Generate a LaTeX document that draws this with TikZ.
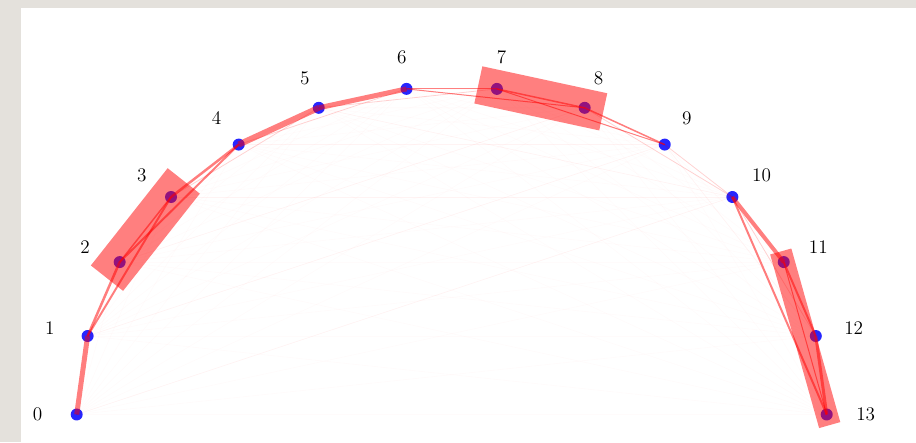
\documentclass[tikz,border=0pt]{standalone}
\usetikzlibrary{positioning,calc}
\definecolor{paper}{RGB}{228,225,220}
\tikzset{
  pt/.style={circle, fill=blue, fill opacity=0.85, inner sep=0pt, minimum size=9pt},
  lbl/.style={font=\Large, inner sep=0pt},
  edge/.style={draw=red, opacity=0.5, line width=#1*0.75pt},
  weak/.style={draw=red, opacity=0.16, line width=0.6pt},
  faint/.style={draw=red, opacity=0.015, line width=0.5pt},
  ghost/.style={draw=red, opacity=0.03, line width=0.5pt},
  group/.style={draw=red, opacity=0.5, line cap=rect, line width=#1*0.75pt}
}
\begin{document}
\begin{tikzpicture}[x=0.75pt, y=0.75pt]
    % frame
    \fill[paper] (0,0) rectangle (916,442);
    \fill[white] (21,0) rectangle (916,434);
    \useasboundingbox (0,0) rectangle (916,442);

    \coordinate (c) at (451.7,27.5);

    \foreach \i in {0,...,13} {
      \pgfmathsetmacro\ang{180-\i*180/13}
      \node[pt] (p\i) at ($(c)+(\ang:375 and 328)$) {};
      \node[lbl] (l\i) at ($(c)+(\ang:414 and 360)$) {\i};
    }

    % all pairs, barely visible
    \foreach \i in {0,...,12} {
      \pgfmathtruncatemacro\k{\i+1}
      \foreach \j in {\k,...,13}
        \draw[faint] (p\i.center) -- (p\j.center);
    }
    \draw[ghost] (p0.center) -- (p10.center);
    \draw[ghost] (p1.center) -- (p9.center);
    \draw[ghost] (p2.center) -- (p8.center);
    \draw[ghost] (p3.center) -- (p10.center);
    \draw[ghost] (p4.center) -- (p9.center);
    \draw[ghost] (p5.center) -- (p10.center);
    \draw[ghost] (p9.center) -- (p12.center);

    \draw[edge=5]   (p0.center) -- (p1.center);
    \draw[edge=2.5] (p1.center) -- (p2.center);
    \draw[edge=2]   (p1.center) -- (p3.center);
    \draw[edge=1.5] (p2.center) -- (p3.center);
    \draw[edge=2]   (p2.center) -- (p4.center);
    \draw[edge=2.5] (p3.center) -- (p4.center);
    \draw[weak]     (p3.center) -- (p5.center);
    \draw[edge=6]   (p4.center) -- (p5.center);
    \draw[weak]     (p4.center) -- (p6.center);
    \draw[edge=5]   (p5.center) -- (p6.center);
    \draw[weak]     (p5.center) -- (p7.center);
    \draw[edge=1.2] (p6.center) -- (p7.center);
    \draw[edge=1]   (p6.center) -- (p8.center);
    \draw[edge=1.5] (p7.center) -- (p8.center);
    \draw[edge=1]   (p7.center) -- (p9.center);
    \draw[edge=1.5] (p8.center) -- (p9.center);
    \draw[weak]     (p8.center) -- (p10.center);
    \draw[weak]     (p9.center) -- (p10.center);
    \draw[edge=4]   (p10.center) -- (p11.center);
    \draw[weak]     (p10.center) -- (p12.center);
    \draw[edge=2]   (p10.center) -- (p13.center);
    \draw[edge=2]   (p11.center) -- (p12.center);
    \draw[edge=1]   (p11.center) -- (p13.center);
    \draw[edge=3]   (p12.center) -- (p13.center);

    % clusters
    \draw[group=41] (p2.center) -- (p3.center);
    \draw[group=38] (p7.center) -- (p8.center);
    \draw[group=22] (p11.center) -- (p13.center);
\end{tikzpicture}
\end{document}
